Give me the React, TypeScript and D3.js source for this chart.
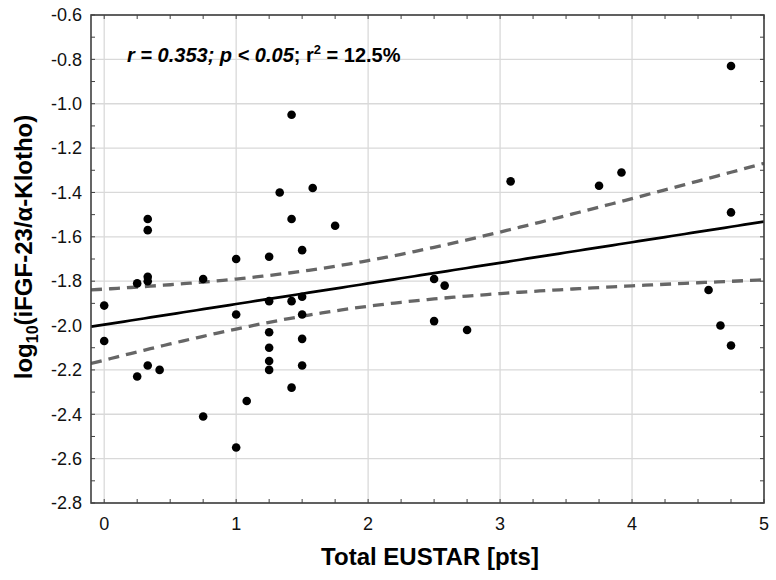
import React from "react";
import * as d3 from "d3";

// Total EUSTAR [pts]
const xValues = [
  0, 0, 0.25, 0.25, 0.33, 0.33, 0.33, 0.33, 0.33, 0.42, 0.75, 0.75, 1.0, 1.0, 1.0, 1.08,
  1.25, 1.25, 1.25, 1.25, 1.25, 1.25, 1.33, 1.42, 1.42, 1.42, 1.42, 1.5, 1.5, 1.5, 1.5, 1.5,
  1.58, 1.75, 2.5, 2.5, 2.58, 2.75, 3.08, 3.75, 3.92, 4.58, 4.67, 4.75, 4.75, 4.75,
];
// log10(iFGF-23/α-Klotho)
const yValues = [
  -1.91, -2.07, -1.81, -2.23, -1.52, -1.57, -1.78, -1.8, -2.18, -2.2, -1.79, -2.41, -1.7, -1.95, -2.55, -2.34,
  -1.69, -1.89, -2.03, -2.1, -2.16, -2.2, -1.4, -1.05, -1.52, -1.89, -2.28, -1.66, -1.87, -1.95, -2.06, -2.18,
  -1.38, -1.55, -1.79, -1.98, -1.82, -2.02, -1.35, -1.37, -1.31, -1.84, -2.0, -0.83, -1.49, -2.09,
];

const xTicks = [0, 1, 2, 3, 4, 5];
const xTickLabels = ["0", "1", "2", "3", "4", "5"];
const yTicks = [-0.6, -0.8, -1.0, -1.2, -1.4, -1.6, -1.8, -2.0, -2.2, -2.4, -2.6, -2.8];
const yTickLabels = ["-0.6", "-0.8", "-1.0", "-1.2", "-1.4", "-1.6", "-1.8", "-2.0", "-2.2", "-2.4", "-2.6", "-2.8"];
const xDomain = [-0.1, 5];
const yDomain = [-2.8, -0.6];
const T_CRIT = 2.0154; // 95% two-sided, df = 44

const W = 776;
const H = 580;
const FONT = "'Liberation Sans', Arial, Helvetica, sans-serif";

export default function App() {
  const left = 91, right = 764, top = 15, bottom = 503;
  const x = d3.scaleLinear().domain(xDomain).range([left, right]);
  const y = d3.scaleLinear().domain(yDomain).range([bottom, top]);

  // linear regression + 95% confidence band
  const n = xValues.length;
  const mx = d3.mean(xValues)!;
  const my = d3.mean(yValues)!;
  let sxx = 0, sxy = 0, syy = 0;
  for (let i = 0; i < n; i++) {
    sxx += (xValues[i] - mx) ** 2;
    sxy += (xValues[i] - mx) * (yValues[i] - my);
    syy += (yValues[i] - my) ** 2;
  }
  const slope = sxy / sxx;
  const intercept = my - slope * mx;
  const s = Math.sqrt((syy - slope * sxy) / (n - 2));
  const grid = d3.range(xDomain[0], xDomain[1] + 0.0001, 0.05);
  const fitPts = grid.map((v) => {
    const yh = intercept + slope * v;
    const hw = T_CRIT * s * Math.sqrt(1 / n + (v - mx) ** 2 / sxx);
    return { v, yh, lo: yh - hw, hi: yh + hw };
  });
  const line = d3.line<any>().x((d) => x(d.v)).y((d) => y(d.yh));
  const lineHi = d3.line<any>().x((d) => x(d.v)).y((d) => y(d.hi));
  const lineLo = d3.line<any>().x((d) => x(d.v)).y((d) => y(d.lo));

  const xMinor = d3.range(0, 5.0001, 0.25);
  const yMinor = d3.range(-2.8, -0.5999, 0.1);
  const tl = 4;

  return (
    <svg width={W} height={H} style={{ position: "absolute", left: 0, top: 0, background: "#fff" }} fontFamily={FONT}>
      <defs>
        <clipPath id="plot">
          <rect x={left} y={top} width={right - left} height={bottom - top} />
        </clipPath>
      </defs>
      {/* grid */}
      {xTicks.map((t) => (
        <line key={"gx" + t} x1={x(t)} x2={x(t)} y1={top} y2={bottom} stroke="#d9d9d9" strokeWidth={1.3} />
      ))}
      {yTicks.map((t) => (
        <line key={"gy" + t} x1={left} x2={right} y1={y(t)} y2={y(t)} stroke="#d9d9d9" strokeWidth={1.3} />
      ))}
      {/* ticks inward */}
      {xMinor.map((t) => (
        <g key={"tx" + t}>
          <line x1={x(t)} x2={x(t)} y1={bottom} y2={bottom - tl} stroke="#404040" strokeWidth={1} />
          <line x1={x(t)} x2={x(t)} y1={top} y2={top + tl} stroke="#404040" strokeWidth={1} />
        </g>
      ))}
      {yMinor.map((t) => (
        <g key={"ty" + t}>
          <line x1={left} x2={left + tl} y1={y(t)} y2={y(t)} stroke="#404040" strokeWidth={1} />
          <line x1={right} x2={right - tl} y1={y(t)} y2={y(t)} stroke="#404040" strokeWidth={1} />
        </g>
      ))}
      {/* fit & CI */}
      <g clipPath="url(#plot)">
        <path d={lineHi(fitPts)!} fill="none" stroke="#666" strokeWidth={3.3} strokeDasharray="11,7" />
        <path d={lineLo(fitPts)!} fill="none" stroke="#666" strokeWidth={3.3} strokeDasharray="11,7" />
        <path d={line(fitPts)!} fill="none" stroke="#000" strokeWidth={2.7} />
        {xValues.map((v, i) => (
          <circle key={"p" + i} cx={x(v)} cy={y(yValues[i])} r={4.3} fill="#000" />
        ))}
      </g>
      {/* frame */}
      <rect x={left} y={top} width={right - left} height={bottom - top} fill="none" stroke="#404040" strokeWidth={1.6} />
      {/* tick labels */}
      {yTicks.map((t, i) => (
        <text key={"ly" + t} x={82} y={y(t)} dy="0.35em" textAnchor="end" fontSize={18} fill="#111">
          {yTickLabels[i]}
        </text>
      ))}
      {xTicks.map((t, i) => (
        <text key={"lx" + t} x={x(t)} y={530} textAnchor="middle" fontSize={18} fill="#111">
          {xTickLabels[i]}
        </text>
      ))}
      {/* annotation */}
      <text x={127} y={62} fontSize={20} fontWeight="bold" fill="#000">
        <tspan fontStyle="italic">r = 0.353; p &lt; 0.05</tspan>
        <tspan>; r</tspan>
        <tspan dy={-8} fontSize={13}>2</tspan>
        <tspan dy={8}> = 12.5%</tspan>
      </text>
      {/* axis titles */}
      <text x={430} y={565} textAnchor="middle" fontSize={24} fontWeight="bold" fill="#000">
        Total EUSTAR [pts]
      </text>
      <text transform="translate(32,247) rotate(-90)" textAnchor="middle" fontSize={24} fontWeight="bold" fill="#000">
        log
        <tspan dy={6} fontSize={16}>10</tspan>
        <tspan dy={-6}>(iFGF-23/α-Klotho)</tspan>
      </text>
    </svg>
  );
}
